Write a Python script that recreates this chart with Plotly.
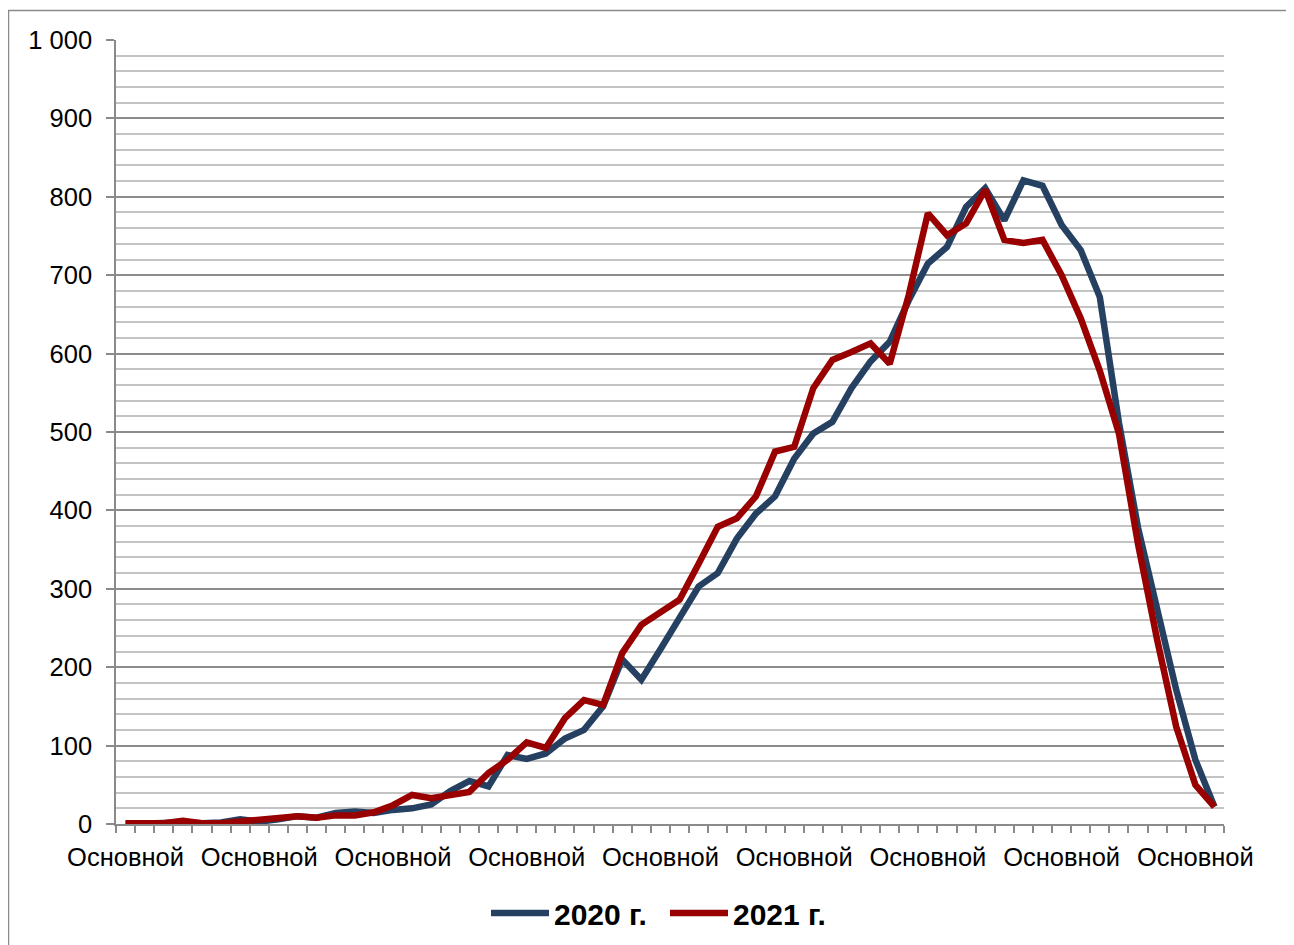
import plotly.graph_objects as go

# Category labels (all identical in the source chart), one per week
categories = ["Основной"] * 58

series_2020 = [0, 1, 2, 2, 1, 2, 6, 3, 6, 10,
               8, 14, 16, 14, 18, 20, 25, 42, 55, 48,
               88, 83, 90, 109, 120, 150, 210, 184, 223, 264,
               303, 320, 364, 396, 418, 466, 498, 513, 556, 590,
               615, 668, 715, 736, 787, 811, 770, 821, 814, 764,
               732, 672, 512, 378, 270, 171, 82, 22]

series_2021 = [1, 1, 1, 4, 1, 1, 3, 6, 8, 10,
               8, 11, 11, 15, 24, 37, 33, 37, 41, 65,
               82, 104, 97, 135, 158, 152, 218, 254, 271, 286,
               332, 379, 390, 418, 475, 481, 556, 592, 602, 613,
               587, 675, 779, 751, 766, 809, 745, 741, 745, 700,
               645, 578, 498, 357, 235, 124, 50, 22]

series_names = ["2020 г.", "2021 г."]
label_step = 7

FONT = "Liberation Sans, Arial, sans-serif"
x_idx = list(range(len(categories)))

# the page body has an 8px default margin, so the figure is laid out 8px in
W, H = 1286, 937
ML, MR, MT, MB = 108, 70, 32, 121
PW, PH = W - ML - MR, H - MT - MB

fig = go.Figure()
fig.add_trace(go.Scatter(x=x_idx, y=series_2020, mode="lines", name=series_names[0],
                         line=dict(color="#254061", width=6.5, shape="linear"),
                         hoverinfo="skip"))
fig.add_trace(go.Scatter(x=x_idx, y=series_2021, mode="lines", name=series_names[1],
                         line=dict(color="#990000", width=6.5, shape="linear"),
                         hoverinfo="skip"))

tick_pos = x_idx[::label_step]
tick_txt = categories[::label_step]

fig.update_layout(
    width=W, height=H,
    margin=dict(l=ML, r=MR, t=MT, b=MB, autoexpand=False),
    paper_bgcolor="white", plot_bgcolor="white",
    separators=", ",
    font=dict(family=FONT, size=25, color="black"),
    showlegend=True,
    legend=dict(orientation="h", xref="container", yref="container",
                x=(478) / W, xanchor="left",
                y=1 - 905 / H, yanchor="middle",
                font=dict(family=FONT, size=30, color="black", weight="bold"),
                itemwidth=58, entrywidth=106, entrywidthmode="pixels",
                tracegroupgap=0),
    xaxis=dict(range=[-0.5, len(categories) - 0.5], tickmode="array",
               tickvals=tick_pos, ticktext=tick_txt, ticks="",
               showgrid=False, zeroline=False, showline=True,
               linecolor="#8a8a8a", linewidth=1.5, automargin=False,
               tickfont=dict(family=FONT, size=25.5, color="black"),
               ticklabelstandoff=10,
               minor=dict(tick0=-0.5, dtick=1, ticks="outside", ticklen=7,
                          tickcolor="#8a8a8a", tickwidth=1.5, showgrid=False)),
    yaxis=dict(range=[0, 1000], dtick=100, tick0=0, tickformat=",d",
               ticks="outside", ticklen=8, tickcolor="#8a8a8a", tickwidth=1.5,
               showgrid=True, gridcolor="#8c8c8c", gridwidth=1.5,
               zeroline=False, showline=True, linecolor="#8a8a8a", linewidth=1.5,
               automargin=False,
               tickfont=dict(family=FONT, size=25.5, color="black"),
               ticklabelstandoff=9,
               minor=dict(dtick=20, showgrid=True, gridcolor="#c4c4c4", gridwidth=1.5,
                          ticks="")),
)

# outer chart frame (page x=8.5, y=10.5, running off the right and bottom)
fig.add_shape(type="rect", xref="paper", yref="paper",
              x0=(0.5 - ML) / PW, x1=(W + 20 - ML) / PW,
              y0=(PH + MT - (H + 20)) / PH, y1=(PH + MT - 2.5) / PH,
              line=dict(color="#8a8a8a", width=1.5), fillcolor="rgba(0,0,0,0)",
              layer="below")

fig.write_html("out.html")
